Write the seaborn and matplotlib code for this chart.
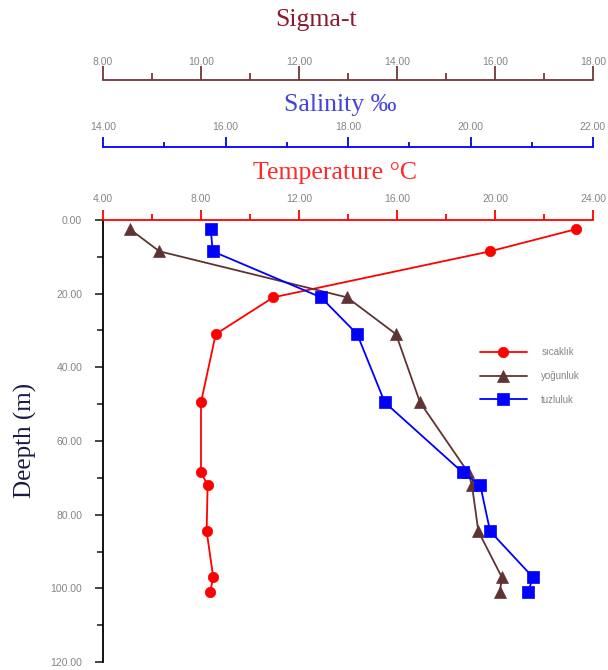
import matplotlib
matplotlib.use("Agg")
import matplotlib.pyplot as plt
import seaborn as sns
import pandas as pd
from matplotlib.ticker import MultipleLocator, FormatStrFormatter

# values
depth = [2.5, 8.5, 21, 31, 49.5, 68.5, 72, 84.5, 97, 101]
sicaklik = [23.3, 19.8, 10.95, 8.6, 8.0, 8.0, 8.27, 8.23, 8.5, 8.37]        # Temperature C
yogunluk = [8.55, 9.15, 12.98, 13.98, 14.47, 15.45, 15.53, 15.66, 16.14, 16.10]  # Sigma-t
tuzluluk = [15.76, 15.79, 17.56, 18.15, 18.6, 19.87, 20.16, 20.32, 21.02, 20.94]  # Salinity

legend_labels = ["sıcaklık", "yoğunluk", "tuzluluk"]

df = pd.DataFrame({"depth": depth, "temp": sicaklik, "sigma": yogunluk, "sal": tuzluluk})

sns.set_style("ticks")
plt.rcParams["font.family"] = ["Liberation Sans", "DejaVu Sans"]

RED = "#FF0000"
BROWN = "#603333"
BLUE = "#0000FF"
TICKCOL = "#858585"

fig = plt.figure(figsize=(6.08, 6.70), dpi=100)
W, H = 608, 670
AX_H = 442
ax = fig.add_axes([103 / W, 8 / H, 490 / W, AX_H / H])
ax_sig = ax.twiny()
ax_sal = ax.twiny()

# temperature (main axes)
sns.lineplot(data=df, x="temp", y="depth", orient="y", sort=False, estimator=None,
             color=RED, lw=1.3, marker="o", markersize=7.5,
             markeredgecolor=RED, markeredgewidth=0.5, label=legend_labels[0], ax=ax)
# sigma-t
sns.lineplot(data=df, x="sigma", y="depth", orient="y", sort=False, estimator=None,
             color=BROWN, lw=1.3, marker="^", markersize=9,
             markeredgecolor=BROWN, markeredgewidth=0.5, label=legend_labels[1], ax=ax_sig)
# salinity
sns.lineplot(data=df, x="sal", y="depth", orient="y", sort=False, estimator=None,
             color=BLUE, lw=1.3, marker="s", markersize=9,
             markeredgecolor=BLUE, markeredgewidth=0.5, label=legend_labels[2], ax=ax_sal)

handles, labels = [], []
for a in (ax, ax_sig, ax_sal):
    h, l = a.get_legend_handles_labels()
    handles += h
    labels += l
    if a.get_legend() is not None:
        a.get_legend().remove()

# depth axis
ax.set_ylim(120, 0)
ax.yaxis.set_major_locator(MultipleLocator(20))
ax.yaxis.set_minor_locator(MultipleLocator(10))
ax.yaxis.set_major_formatter(FormatStrFormatter("%.2f"))
ax.tick_params(axis="y", which="major", length=6, width=1.2, pad=9,
               labelsize=7.5, labelcolor=TICKCOL)
ax.tick_params(axis="y", which="minor", length=4, width=1.2)
ax.set_ylabel("")

# temperature axis on top of main axes
ax.set_xlim(4, 24)
ax.xaxis.tick_top()
ax.xaxis.set_major_locator(MultipleLocator(4))
ax.xaxis.set_minor_locator(MultipleLocator(2))
ax.xaxis.set_major_formatter(FormatStrFormatter("%.2f"))
ax.tick_params(axis="x", which="major", length=7.5, width=1.3, color=RED, pad=4,
               labelsize=7.5, labelcolor=TICKCOL)
ax.tick_params(axis="x", which="minor", length=4, width=1.3, color=RED)
ax.set_xlabel("")
ax.spines["top"].set_color(RED)
ax.spines["top"].set_linewidth(1.3)
ax.spines["left"].set_linewidth(1.3)
ax.spines["left"].set_color("black")
ax.spines["right"].set_visible(False)
ax.spines["bottom"].set_visible(False)

# salinity and sigma-t axes above
for a, lo, hi, maj, col, pos, tl, pd_ in ((ax_sal, 14, 22, 2, BLUE, 1 + 73 / AX_H, 7.5, 3),
                                          (ax_sig, 8, 18, 2, "#703838", 1 + 140 / AX_H, 10, -1)):
    a.set_xlim(lo, hi)
    a.xaxis.set_major_locator(MultipleLocator(maj))
    a.xaxis.set_minor_locator(MultipleLocator(maj / 2))
    a.xaxis.set_major_formatter(FormatStrFormatter("%.2f"))
    a.spines["top"].set_position(("axes", pos))
    a.spines["top"].set_color(col)
    a.spines["top"].set_linewidth(1.3)
    for s in ("left", "right", "bottom"):
        a.spines[s].set_visible(False)
    a.tick_params(axis="x", which="major", length=tl, width=1.3, color=col, pad=pd_,
                  labelsize=7.5, labelcolor=TICKCOL)
    a.tick_params(axis="x", which="minor", length=tl / 2, width=1.3, color=col)
    a.set_xlabel("")
    a.set_ylim(120, 0)

# titles
serif = ["Liberation Serif", "DejaVu Serif"]
fig.text(316 / W, 1 - 20 / H, "Sigma-t", ha="center", va="center", fontsize=18.5,
         color="#8B1A2E", family=serif)
fig.text(340 / W, 1 - 105 / H, "Salinity ‰", ha="center", va="center", fontsize=18.5,
         color="#4444DD", family=serif)
fig.text(335 / W, 1 - 173 / H, "Temperature °C", ha="center", va="center", fontsize=18.5,
         color="#FF2A2A", family=serif)
fig.text(25 / W, 1 - 440 / H, "Deepth (m)", ha="center", va="center", fontsize=18,
         rotation=90, color="#1A1A4A", family=serif)

ax_sal.legend(handles, labels, loc="center left", bbox_to_anchor=(480 / W, 1 - 376 / H),
              bbox_transform=fig.transFigure, frameon=False, fontsize=7,
              labelcolor=TICKCOL, handlelength=4.8, handletextpad=1.5,
              labelspacing=1.4, borderpad=0, borderaxespad=0)

fig.savefig("out.png", dpi=100)
